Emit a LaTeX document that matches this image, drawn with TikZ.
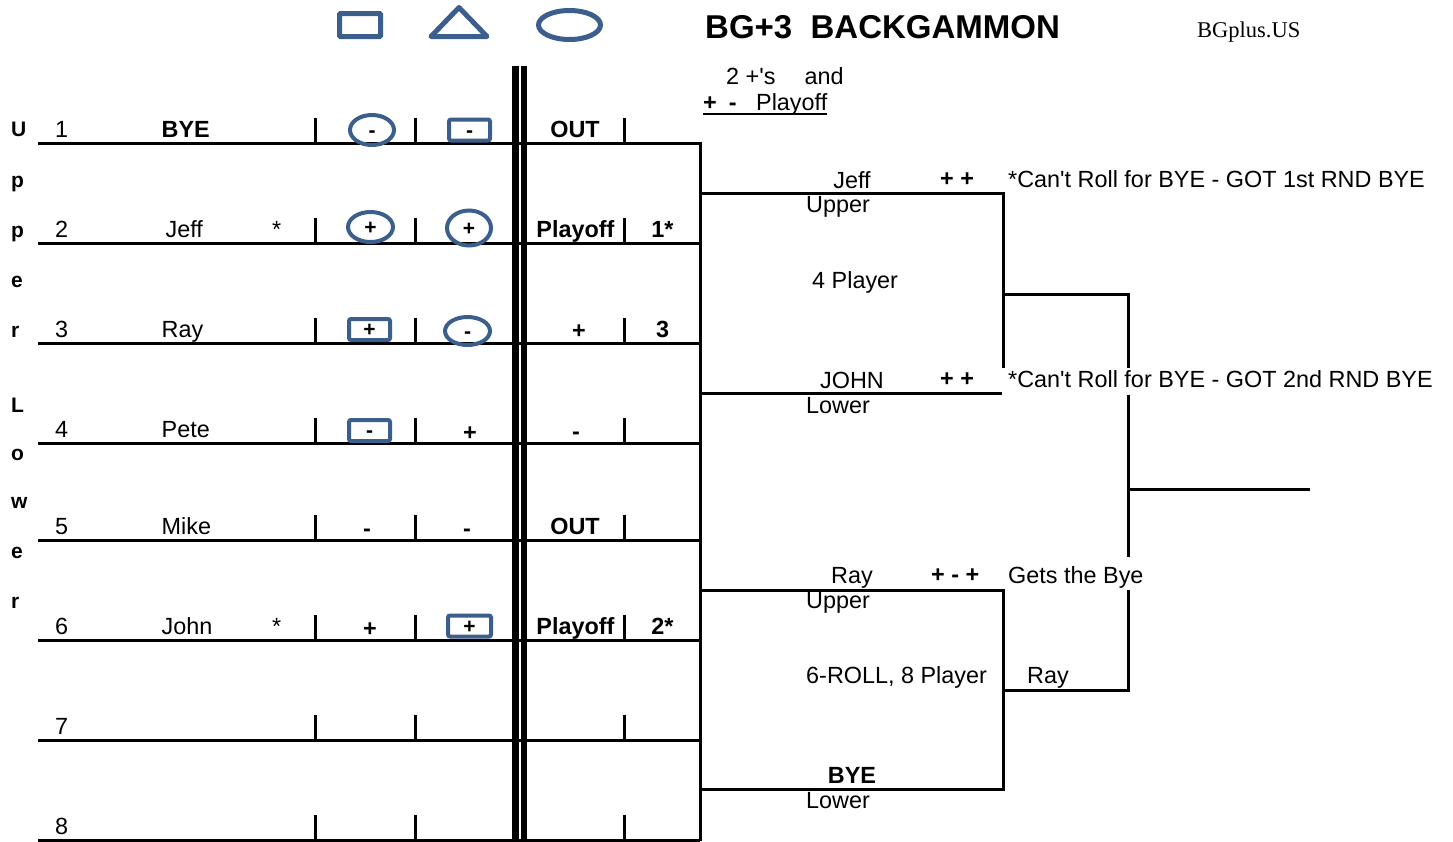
\documentclass[tikz,border=0pt]{standalone}
\usepackage{fontspec}
\setmainfont{Liberation Sans}
\newfontfamily\sitefont{Liberation Serif}
\usepackage{tikz}
\usetikzlibrary{calc,shapes.geometric}
\definecolor{ink}{HTML}{000000}
\definecolor{bgblue}{HTML}{3B5E8C}
\newcommand{\txtsize}{\fontsize{23.4}{28}\selectfont}
\newcommand{\apos}{\textquotesingle}
\tikzset{
  rule/.style={draw=ink, line width=3pt},
  lbl/.style={text=ink, font=\txtsize, inner sep=0pt, anchor=base west},
  mid/.style={text=ink, font=\txtsize, inner sep=0pt, anchor=base},
  bold/.style={font=\txtsize\bfseries},
  side/.style={lbl, font=\fontsize{21}{25}\selectfont\bfseries},
  oval/.style={ellipse, draw=bgblue, line width=4pt, inner sep=0pt, minimum width=44pt, minimum height=30pt, text height=14pt, text depth=0pt, font=\fontsize{21}{25}\selectfont\bfseries},
  tile/.style={rectangle, rounded corners=2pt, draw=bgblue, line width=4pt, inner sep=0pt, minimum width=41pt, minimum height=21pt, text height=14pt, text depth=0pt, font=\fontsize{21}{25}\selectfont\bfseries},
  cover/.style={fill=white, inner ysep=0pt, inner xsep=6.5pt, text height=19pt, text depth=8pt}
}

\begin{document}
\begin{tikzpicture}[x=1pt,y=-1pt]
\useasboundingbox (0,0) rectangle (1453,841);

\node[tile, line width=5pt, minimum width=41pt, minimum height=23pt, rounded corners=1pt] (sq) at (360,25) {};
\draw[draw=bgblue, line width=5pt, line join=round] (431,36.5) -- (459,7.5) -- (487,36.5) -- cycle;
\node[oval, line width=5pt, minimum width=62pt, minimum height=29pt] (ov) at (569.5,25) {};
\node[lbl, font=\fontsize{33}{39}\selectfont\bfseries] (title) at (705,38) {BG+3\ \ BACKGAMMON};
\node[lbl, font=\sitefont\fontsize{22.5}{27}\selectfont] (site) at (1197,37) {BGplus.US};

\node[lbl] (two) at (726,84) {2 +\apos s\hspace*{29pt}and};
\node[lbl] (pm) at (703,110) {\textbf{+\hspace*{12pt}-}\hspace*{19.5pt}Playoff};
\draw[draw=ink, line width=1.5pt] ($(pm.base west)+(0,4)$) -- ($(pm.base east)+(0,4)$);

\draw[draw=ink, line width=7.5pt] (515.5,66) -- (515.5,841);
\draw[draw=ink, line width=6.5pt] (524,66) -- (524,841);

\foreach \n/\y in {1/143,2/243,3/343,4/443,5/540,6/640,7/740,8/840} {
  \draw[rule] (38,\y) -- (700,\y);
  \foreach \x in {315,415,624} \draw[rule] (\x,\y-25) -- (\x,\y);
  \node[lbl] (n\n) at (55,\y-6) {\n};
}
\foreach \c/\yy [count=\i] in {U/136,p/187,p/237,e/287,r/337,L/412,o/460,w/508,e/558,r/608}
  \node[side] (s\i) at (11,\yy) {\c};

\node[lbl,bold] (p1) at (161.5,137) {BYE};
\node[lbl] (p2) at (165.5,237) {Jeff};
\node[lbl] (p3) at (161.5,337) {Ray};
\node[lbl] (p4) at (161.5,437) {Pete};
\node[lbl] (p5) at (161.5,534) {Mike};
\node[lbl] (p6) at (161.5,634) {John};
\node[lbl] (a2) at (272,237) {*};
\node[lbl] (a6) at (272,634) {*};

\node[oval] (c11) at (372,130) {-};
\node[tile] (c12) at (469.5,130) {-};
\node[oval, minimum width=45pt] (c21) at (370.5,227) {+};
\node[oval, minimum height=35pt] (c22) at (469,228) {+};
\node[tile] (c31) at (369.5,329.5) {+};
\node[oval, minimum width=45pt, minimum height=28pt] (c32) at (467.5,331) {-};
\node[tile] (c41) at (369.5,430.5) {-};
\node[mid,bold] (c42) at (470,440.5) {+};
\node[mid,bold] (c51) at (367,536) {-};
\node[mid,bold] (c52) at (467,536) {-};
\node[mid,bold] (c61) at (370,636.5) {+};
\node[tile, minimum width=43pt] (c62) at (469.5,626) {+};

\node[mid,bold] (o1) at (575,137) {OUT};
\node[mid,bold] (o2) at (575.5,237) {Playoff};
\node[mid,bold] (o3) at (579,338.5) {+};
\node[mid,bold] (o4) at (576,439.5) {-};
\node[mid,bold] (o5) at (575,534) {OUT};
\node[mid,bold] (o6) at (575.5,634) {Playoff};
\node[mid,bold] (r2) at (662.5,237) {1*};
\node[mid,bold] (r3) at (662.5,337) {3};
\node[mid,bold] (r6) at (662.5,634) {2*};

\draw[rule] (700,141.5) -- (700,841);
\draw[rule] (700,193.5) -- (1003.5,193.5) -- (1003.5,393) -- (700,393);
\draw[rule] (700,590) -- (1003.5,590) -- (1003.5,789.5) -- (700,789.5);
\draw[rule] (1003.5,294) -- (1128,294) -- (1128,690) -- (1003.5,690);
\draw[rule] (1128,489.5) -- (1310,489.5);

\node[mid] (w1) at (852,188) {Jeff};
\node[lbl] (u1) at (806,212) {Upper};
\node[lbl,bold] (pp1) at (940,186) {+ +};
\node[lbl] (note1) at (1008,187) {*Can\apos t Roll for BYE - GOT 1st RND BYE};
\node[lbl] (four) at (812,288) {4 Player};
\node[mid] (w2) at (852,388) {JOHN};
\node[lbl,bold] (pp2) at (940,386) {+ +};
\node[lbl,cover] (note2) at (1001.5,387) {*Can\apos t Roll for BYE - GOT 2nd RND BYE};
\node[lbl] (d1) at (806,413) {Lower};
\node[mid] (w3) at (852,583) {Ray};
\node[lbl,bold] (pp3) at (931,582) {+ - +};
\node[lbl,cover, text height=26pt, text depth=7pt, inner xsep=2pt] (gets) at (1006,583) {Gets the Bye};
\node[lbl] (u2) at (806,608) {Upper};
\node[lbl] (six) at (806,683) {6-ROLL, 8 Player};
\node[lbl] (w5) at (1027,683) {Ray};
\node[mid,bold] (w4) at (852,783) {BYE};
\node[lbl] (d2) at (806,808) {Lower};
\end{tikzpicture}
\end{document}
